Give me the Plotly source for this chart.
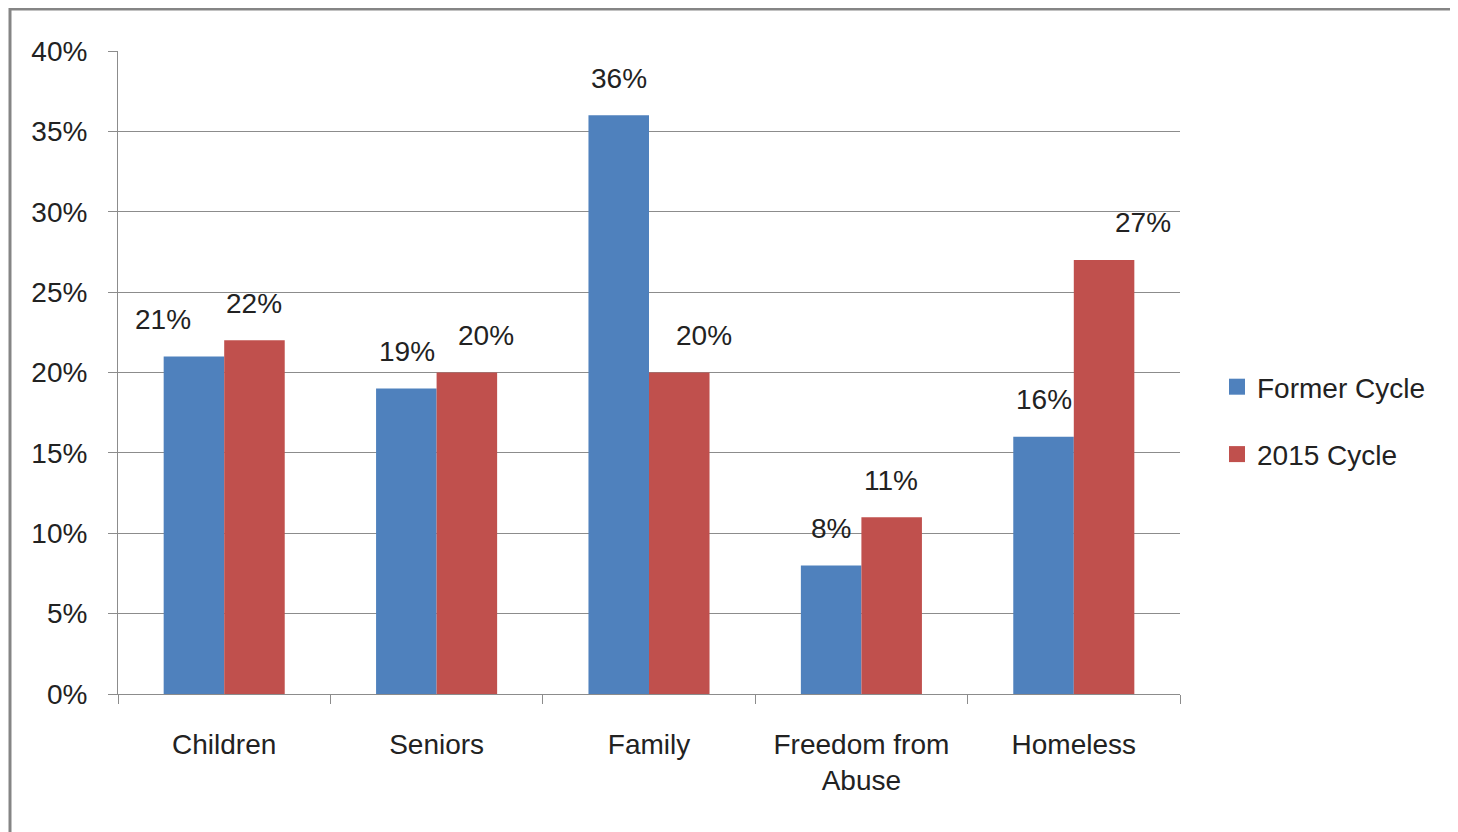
import plotly.graph_objects as go

categories = ["Children", "Seniors", "Family", "Freedom from<br>Abuse", "Homeless"]
former_cycle = [0.21, 0.19, 0.36, 0.08, 0.16]
cycle_2015 = [0.22, 0.20, 0.20, 0.11, 0.27]
series_names = ["Former Cycle", "2015 Cycle"]
y_ticks = [0, 0.05, 0.10, 0.15, 0.20, 0.25, 0.30, 0.35, 0.40]
y_tick_labels = ["0%", "5%", "10%", "15%", "20%", "25%", "30%", "35%", "40%"]

BLUE = "#4F81BD"
RED = "#C0504D"
FONT = "Liberation Sans, Arial, sans-serif"
GRID = "#8c8c8c"
TXT = "#222"

# pixel nudges for data labels (style only)
blue_nudge = [-31, 0, 0, 0, 0]
red_nudge = [0, 19, 25, 0, 39]
group_off = 30

fig = go.Figure()
fig.add_trace(go.Bar(x=categories, y=former_cycle, name=series_names[0], showlegend=False,
                     marker=dict(color=BLUE, line=dict(width=0))))
fig.add_trace(go.Bar(x=categories, y=cycle_2015, name=series_names[1], showlegend=False,
                     marker=dict(color=RED, line=dict(width=0))))
# legend entries with square swatches
for nm, col, grp in [(series_names[0], BLUE, "a"), (series_names[1], RED, "b")]:
    fig.add_trace(go.Scatter(x=[None], y=[None], mode="markers", name=nm, legendgroup=grp,
                             marker=dict(symbol="square", size=16, color=col)))

annotations = []
for i, c in enumerate(categories):
    annotations.append(dict(x=c, y=former_cycle[i], xref="x", yref="y",
                            text=f"{round(former_cycle[i]*100)}%", showarrow=False,
                            xshift=-group_off + blue_nudge[i], yshift=37,
                            font=dict(family=FONT, size=28, color=TXT)))
    annotations.append(dict(x=c, y=cycle_2015[i], xref="x", yref="y",
                            text=f"{round(cycle_2015[i]*100)}%", showarrow=False,
                            xshift=group_off + red_nudge[i], yshift=37,
                            font=dict(family=FONT, size=28, color=TXT)))

# page has an 8px body margin: compensate
L, T = 110, 43
W, H = 1450, 824
pw, ph = 1062, 643
R, B = W - L - pw, H - T - ph

fig.update_layout(
    width=W, height=H,
    margin=dict(l=L, r=R, t=T, b=B, autoexpand=False),
    paper_bgcolor="white", plot_bgcolor="white",
    barmode="group", bargap=0.43, bargroupgap=0,
    font=dict(family=FONT, size=28, color=TXT),
    showlegend=True,
    legend=dict(x=(1217 - 8 - L) / pw, y=(694 - 8 - 354) / ph, xanchor="left", yanchor="top",
                font=dict(family=FONT, size=28, color=TXT),
                tracegroupgap=28, itemwidth=30, bgcolor="rgba(0,0,0,0)"),
    annotations=annotations,
    shapes=[dict(type="rect", xref="paper", yref="paper",
                 x0=(2 - L) / pw, x1=1.6, y0=-0.6, y1=(ph + T - 1) / ph,
                 line=dict(color="#858585", width=3), layer="below")],
)
fig.update_xaxes(showline=True, linecolor=GRID, linewidth=1,
                 ticks="outside", tickson="boundaries", ticklen=9, tickcolor=GRID,
                 ticklabelstandoff=25,
                 tickfont=dict(family=FONT, size=28, color=TXT),
                 showgrid=False)
fig.update_yaxes(range=[0, 0.40], tickvals=y_ticks, ticktext=y_tick_labels,
                 showline=True, linecolor=GRID, linewidth=1,
                 showgrid=True, gridcolor=GRID, gridwidth=1,
                 ticks="outside", ticklen=9, tickcolor=GRID,
                 ticklabelstandoff=15,
                 tickfont=dict(family=FONT, size=28, color=TXT),
                 zeroline=False)

fig.write_html("out.html")
